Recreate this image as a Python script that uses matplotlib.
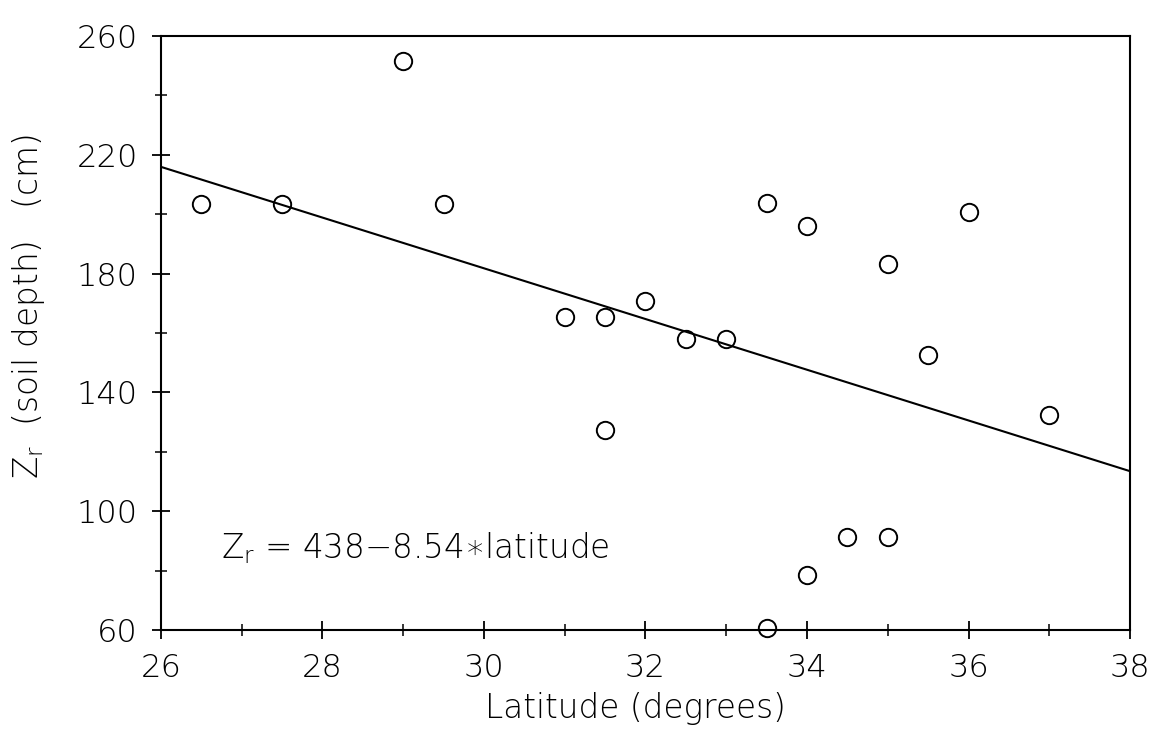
import matplotlib
matplotlib.use("Agg")
import matplotlib.pyplot as plt
import numpy as np
from matplotlib.ticker import MultipleLocator

plt.rcParams['font.family'] = ['DejaVu Sans']
plt.rcParams['font.weight'] = 'light'
plt.rcParams['axes.labelweight'] = 'light'
plt.rcParams['mathtext.default'] = 'regular'

# Data
latitude = [26.5, 27.5, 29.0, 29.5, 31.0, 31.5, 31.5, 32.0, 32.5, 33.0,
            33.5, 33.5, 34.0, 34.0, 34.5, 35.0, 35.0, 35.5, 36.0, 37.0]
soil_depth = [203.6, 203.5, 251.5, 203.5, 165.5, 165.5, 127.2, 170.8, 158.0, 158.0,
              203.8, 60.7, 196.2, 78.5, 91.2, 91.2, 183.4, 152.7, 200.9, 132.5]

fit_intercept = 438.0
fit_slope = -8.54
fit_x = [26, 38]

x_ticks = [26, 28, 30, 32, 34, 36, 38]
y_ticks = [60, 100, 140, 180, 220, 260]

fig = plt.figure(figsize=(11.57, 7.38), dpi=100)
ax = fig.add_axes([0.139, 0.1463, 0.8377, 0.8049])

ax.plot(latitude, soil_depth, linestyle='none', marker='o', markersize=12.5,
        markerfacecolor='none', markeredgecolor='black', markeredgewidth=1.4,
        clip_on=False, zorder=3)

fx = np.array(fit_x, dtype=float)
ax.plot(fx, fit_intercept + fit_slope * fx, color='black', linewidth=1.5)

ax.set_xlim(26, 38)
ax.set_ylim(60, 260)
ax.set_xticks(x_ticks)
ax.set_yticks(y_ticks)
ax.xaxis.set_minor_locator(MultipleLocator(1))
ax.yaxis.set_minor_locator(MultipleLocator(20))

for s in ax.spines.values():
    s.set_linewidth(1.5)

ax.tick_params(axis='both', which='major', direction='inout', length=13, width=1.3,
               labelsize=23, pad=10, top=False, right=False)
ax.tick_params(axis='both', which='minor', direction='inout', length=8, width=1.1,
               top=False, right=False)

ax.set_xlabel('Latitude (degrees)', fontsize=23.5, fontweight='light')
ax.xaxis.label.set_verticalalignment('baseline')
ax.xaxis.set_label_coords(0.49, -0.148)

ax.set_ylabel('Z$_{r}$  (soil depth)   (cm)', fontsize=23.5, fontweight='light')
ax.yaxis.label.set_verticalalignment('baseline')
ax.yaxis.set_label_coords(-0.127, 0.544)

ax.text(26.75, 84, 'Z$_{r}$ = 438\u22128.54\u2217latitude', fontsize=23.5,
        fontweight='light', ha='left', va='baseline')

fig.savefig('out.png', dpi=100)
